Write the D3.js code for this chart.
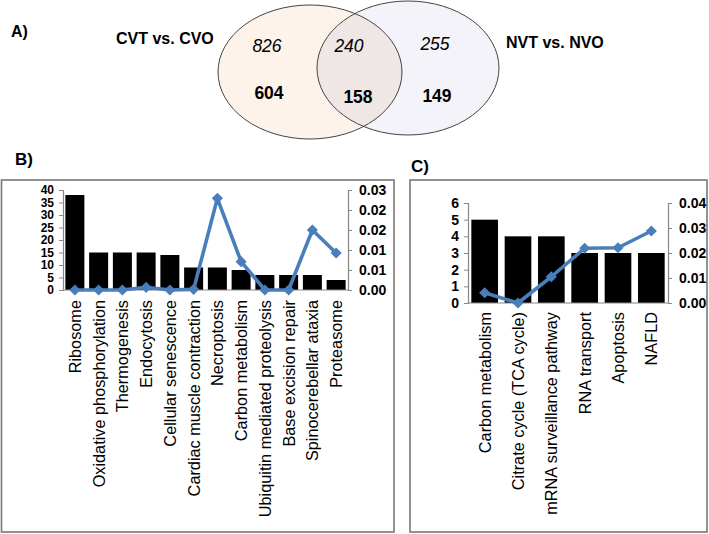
<!DOCTYPE html>
<html><head><meta charset="utf-8">
<script src="https://cdn.jsdelivr.net/npm/d3@7"></script>
<style>
body{margin:0;background:#fff}
svg{display:block}
text{font-family:"Liberation Sans",Arial,Helvetica,sans-serif;fill:#000}
</style>
</head><body>
<svg id="c" width="709" height="534"></svg>
<script>
// ---- data ----
const vennSets = ["CVT vs. CVO", "NVT vs. NVO"];
const vennItalic = [826, 240, 255];
const vennBold = [604, 158, 149];

const pathwaysB = ["Ribosome","Oxidative phosphorylation","Thermogenesis","Endocytosis","Cellular senescence","Cardiac muscle contraction","Necroptosis","Carbon metabolism","Ubiquitin mediated proteolysis","Base excision repair","Spinocerebellar ataxia","Proteasome"];
const countsB = [38,15,15,15,14,9,9,8,6,6,6,4];
const pvalB = [0,0,0,0.0008,0,0.0002,0.0275,0.0085,0,0,0.018,0.0111];
const leftTicksB = [0,5,10,15,20,25,30,35,40];
const rightTicksB = [0,0.006,0.012,0.018,0.024,0.03];

const pathwaysC = ["Carbon metabolism","Citrate cycle (TCA cycle)","mRNA surveillance pathway","RNA transport","Apoptosis","NAFLD"];
const countsC = [5,4,4,3,3,3];
const pvalC = [0.0041,0,0.0105,0.0219,0.0221,0.0288];
const leftTicksC = [0,1,2,3,4,5,6];
const rightTicksC = [0,0.01,0.02,0.03,0.04];

const panelLabels = ["A)","B)","C)"];

// ---- drawing ----
const svg = d3.select("#c");
const LINE = "#4a7ebb";

// panel labels
svg.append("text").attr("x",11).attr("y",37).attr("font-size",16).attr("font-weight","bold").text(panelLabels[0]);
svg.append("text").attr("x",15).attr("y",165).attr("font-size",17).attr("font-weight","bold").text(panelLabels[1]);
svg.append("text").attr("x",411).attr("y",172).attr("font-size",17).attr("font-weight","bold").text(panelLabels[2]);

// Venn
const E1 = {cx:310, cy:72, rx:92, ry:67};
const E2 = {cx:408, cy:68, rx:91, ry:67};
const defs = svg.append("defs");
defs.append("clipPath").attr("id","clipL").append("ellipse")
  .attr("cx",E1.cx).attr("cy",E1.cy).attr("rx",E1.rx).attr("ry",E1.ry);
svg.append("ellipse").attr("cx",E1.cx).attr("cy",E1.cy).attr("rx",E1.rx).attr("ry",E1.ry).attr("fill","#fdf3ea");
svg.append("ellipse").attr("cx",E2.cx).attr("cy",E2.cy).attr("rx",E2.rx).attr("ry",E2.ry).attr("fill","#f4f3f9");
svg.append("ellipse").attr("cx",E2.cx).attr("cy",E2.cy).attr("rx",E2.rx).attr("ry",E2.ry).attr("fill","#efe6e6").attr("clip-path","url(#clipL)");
[E1,E2].forEach(e=>svg.append("ellipse").attr("cx",e.cx).attr("cy",e.cy).attr("rx",e.rx).attr("ry",e.ry)
  .attr("fill","none").attr("stroke","#444").attr("stroke-width",1));

const italPos = [[267,52],[349,52],[435,50]];
const boldPos = [[269,99],[358,103],[437,102]];
vennItalic.forEach((v,i)=>svg.append("text").attr("x",italPos[i][0]).attr("y",italPos[i][1])
  .attr("text-anchor","middle").attr("font-size",17.5).attr("font-style","italic").text(v));
vennBold.forEach((v,i)=>svg.append("text").attr("x",boldPos[i][0]).attr("y",boldPos[i][1])
  .attr("text-anchor","middle").attr("font-size",17.5).attr("font-weight","bold").text(v));
svg.append("text").attr("x",116).attr("y",44).attr("font-size",16).attr("font-weight","bold").text(vennSets[0]);
svg.append("text").attr("x",506).attr("y",48).attr("font-size",16).attr("font-weight","bold").text(vennSets[1]);

// frames
svg.append("rect").attr("x",1.5).attr("y",180).attr("width",392.5).attr("height",352)
  .attr("fill","none").attr("stroke","#777").attr("stroke-width",1.6);
svg.append("rect").attr("x",410).attr("y",180).attr("width",297).attr("height",352)
  .attr("fill","none").attr("stroke","#777").attr("stroke-width",1.6);

function combo(cfg){
  const g = svg.append("g");
  const x = d3.scaleBand().domain(cfg.cats).range([cfg.x0,cfg.x1]).paddingInner(0.2).paddingOuter(0.1);
  const yL = d3.scaleLinear().domain([0,cfg.maxL]).range([cfg.y0,cfg.yT]);
  const yR = d3.scaleLinear().domain([0,cfg.maxR]).range([cfg.y0,cfg.yT]);

  // bars
  g.selectAll("rect.bar").data(cfg.counts).join("rect").attr("class","bar")
    .attr("x",(d,i)=>x(cfg.cats[i])).attr("width",x.bandwidth())
    .attr("y",d=>yL(d)).attr("height",d=>yL(0)-yL(d)).attr("fill","#000");

  // axes
  const axL = g.append("g").attr("transform",`translate(${cfg.x0},0)`)
    .call(d3.axisLeft(yL).tickValues(cfg.lt).tickSize(4).tickPadding(5).tickFormat(d3.format("d")));
  const axR = g.append("g").attr("transform",`translate(${cfg.x1},0)`)
    .call(d3.axisRight(yR).tickValues(cfg.rt).tickSize(4).tickPadding(7).tickFormat(d3.format(".2f")));
  [axL,axR].forEach(a=>{
    a.select(".domain").attr("stroke","#888").attr("stroke-width",1.2);
    a.selectAll(".tick line").attr("stroke","#888");
    a.selectAll(".tick text").attr("font-family","Liberation Sans, Arial, sans-serif").attr("font-weight","bold").attr("fill","#000");
  });
  axL.selectAll(".tick text").attr("font-size",cfg.fsL);
  axR.selectAll(".tick text").attr("font-size",cfg.fsR);

  // x axis line
  g.append("line").attr("x1",cfg.x0).attr("x2",cfg.x1).attr("y1",yL(0)).attr("y2",yL(0))
    .attr("stroke","#888").attr("stroke-width",1.2);

  // category labels
  g.selectAll("text.cat").data(cfg.cats).join("text").attr("class","cat")
    .attr("transform",d=>`translate(${x(d)+x.bandwidth()/2},${cfg.y0+cfg.labGap}) rotate(-90)`)
    .attr("text-anchor","end").attr("dy","0.36em").attr("font-size",16.3).text(d=>d);

  // line + diamonds
  const pts = cfg.pv.map((v,i)=>[x(cfg.cats[i])+x.bandwidth()/2, yR(v)]);
  g.append("path").attr("d",d3.line()(pts)).attr("fill","none").attr("stroke",LINE)
    .attr("stroke-width",3.6).attr("stroke-linejoin","round");
  const sq = d3.symbol().type(d3.symbolSquare).size(62);
  g.selectAll("path.mk").data(pts).join("path").attr("class","mk")
    .attr("d",sq).attr("transform",d=>`translate(${d[0]},${d[1]}) rotate(45)`).attr("fill",LINE);
}

combo({cats:pathwaysB, counts:countsB, pv:pvalB, x0:63, x1:348, y0:290, yT:190,
  maxL:40, maxR:0.03, lt:leftTicksB, rt:rightTicksB, fsL:12, fsR:14, labGap:10});
combo({cats:pathwaysC, counts:countsC, pv:pvalC, x0:468, x1:668, y0:303, yT:203,
  maxL:6, maxR:0.04, lt:leftTicksC, rt:rightTicksC, fsL:14, fsR:14, labGap:9});
</script>
</body></html>
